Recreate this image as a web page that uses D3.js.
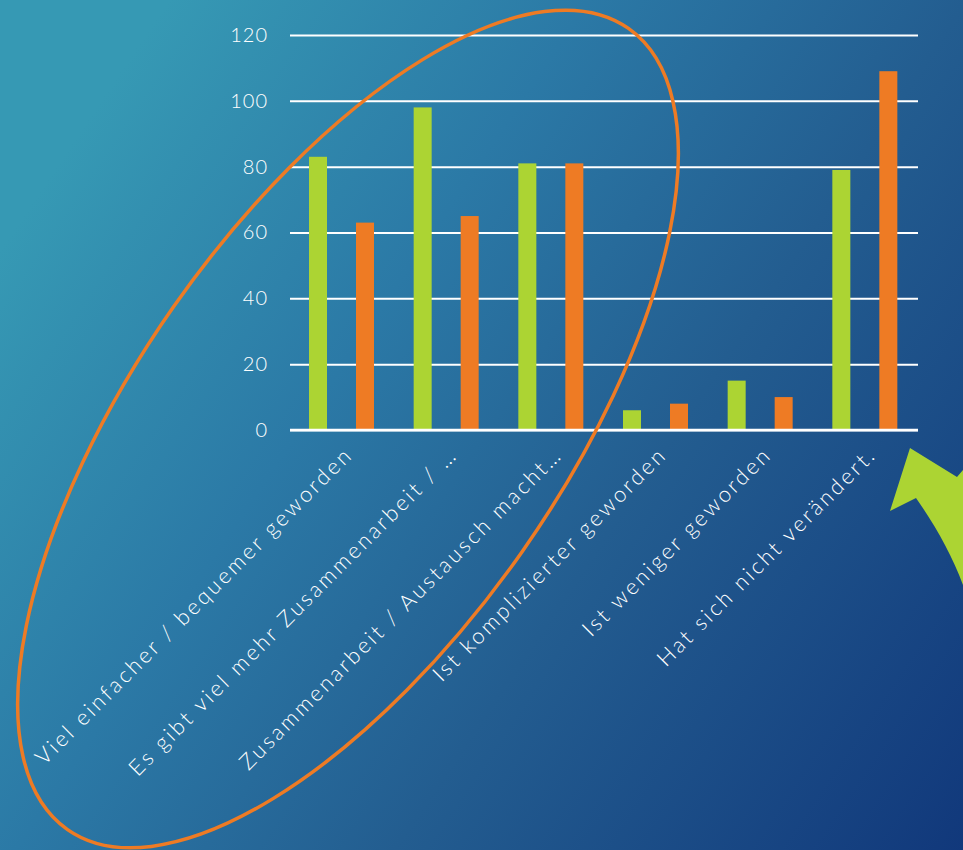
<!DOCTYPE html>
<html>
<head>
<meta charset="utf-8">
<script src="https://cdn.jsdelivr.net/npm/d3@7"></script>
<style>
  html, body { margin: 0; padding: 0; background: #1f5d8c; }
  svg { display: block; }
</style>
</head>
<body>
<svg id="chart"></svg>
<script>
// categories and values
const categories = [
    "Viel einfacher / bequemer geworden",
    "Es gibt viel mehr Zusammenarbeit / …",
    "Zusammenarbeit / Austausch macht…",
    "Ist komplizierter geworden",
    "Ist weniger geworden",
    "Hat sich nicht verändert."
];
const seriesNames = ["green", "orange"];
const greenValues = [83, 98, 81, 6, 15, 79];
const orangeValues = [63, 65, 81, 8, 10, 109];
const yTicks = [0, 20, 40, 60, 80, 100, 120];

const W = 963, H = 850;
const colors = { green: "#acd433", orange: "#ee7b24" };
const font = "'Century Gothic', 'Lato', 'Open Sans', sans-serif";

let svg = d3.select("#chart").attr("width", W).attr("height", H);

// Background gradient
let defs = svg.append("defs");
let grad = defs.append("linearGradient")
    .attr("id", "bg")
    .attr("gradientUnits", "userSpaceOnUse")
    .attr("x1", 0).attr("y1", 250)
    .attr("x2", 963).attr("y2", 900);
grad.append("stop").attr("offset", 0).attr("stop-color", "#3699b4");
grad.append("stop").attr("offset", 0.3).attr("stop-color", "#2b79a6");
grad.append("stop").attr("offset", 0.57).attr("stop-color", "#235d90");
grad.append("stop").attr("offset", 1).attr("stop-color", "#10367a");

svg.append("rect").attr("width", W).attr("height", H).attr("fill", "url(#bg)");

// Scales
const xScale = d3.scaleBand().domain(categories).range([290, 918]);
const xInner = d3.scaleBand().domain(seriesNames).range([19, 84]).paddingInner(0.617);
const yScale = d3.scaleLinear().domain([0, 120]).range([430, 35]);

// Gridlines + y tick labels
let yAxis = svg.append("g")
    .attr("transform", "translate(290,0)")
    .call(d3.axisLeft(yScale).tickValues(yTicks).tickSize(-628).tickPadding(22));
yAxis.select(".domain").remove();
yAxis.selectAll(".tick line").attr("stroke", "#ffffff").attr("stroke-width", 2);
yAxis.selectAll(".tick text")
    .attr("fill", "#ffffff")
    .style("font-family", font)
    .style("font-size", "20px")
    .style("font-weight", 300)
    .style("letter-spacing", "1px");

// Bars
let data = categories.map((c, i) => ({ cat: c, green: greenValues[i], orange: orangeValues[i] }));
let groups = svg.append("g").selectAll("g")
    .data(data)
    .join("g")
    .attr("transform", d => `translate(${xScale(d.cat)},0)`);

groups.selectAll("rect")
    .data(d => seriesNames.map(s => ({ s: s, v: d[s] })))
    .join("rect")
    .attr("x", d => xInner(d.s))
    .attr("width", xInner.bandwidth())
    .attr("y", d => yScale(d.v))
    .attr("height", d => yScale(0) - yScale(d.v))
    .attr("fill", d => colors[d.s]);

// Baseline on top of bars
svg.append("line")
    .attr("x1", 290).attr("x2", 918)
    .attr("y1", yScale(0)).attr("y2", yScale(0))
    .attr("stroke", "#ffffff").attr("stroke-width", 2.5);

// Rotated category labels
svg.append("g").selectAll("text")
    .data(categories)
    .join("text")
    .attr("transform", d => `translate(${xScale(d) + xScale.bandwidth() / 2 + 12},456) rotate(-45)`)
    .attr("text-anchor", "end")
    .attr("fill", "#ffffff")
    .style("font-family", font)
    .style("font-size", "22px")
    .style("font-weight", 300)
    .style("letter-spacing", "2.7px")
    .text(d => d);

// Orange ellipse around the first three categories
svg.append("ellipse")
    .attr("cx", 348).attr("cy", 429)
    .attr("rx", 489).attr("ry", 213)
    .attr("transform", "rotate(-55,348,429)")
    .attr("fill", "none")
    .attr("stroke", colors.orange)
    .attr("stroke-width", 3.5);

// Green curved arrow pointing at the last category
svg.append("path")
    .attr("d", "M910,448 L890,511 L916,498 C935,525 952,555 963,585 L963,470 L957,477 Z")
    .attr("fill", colors.green);
</script>
</body>
</html>
